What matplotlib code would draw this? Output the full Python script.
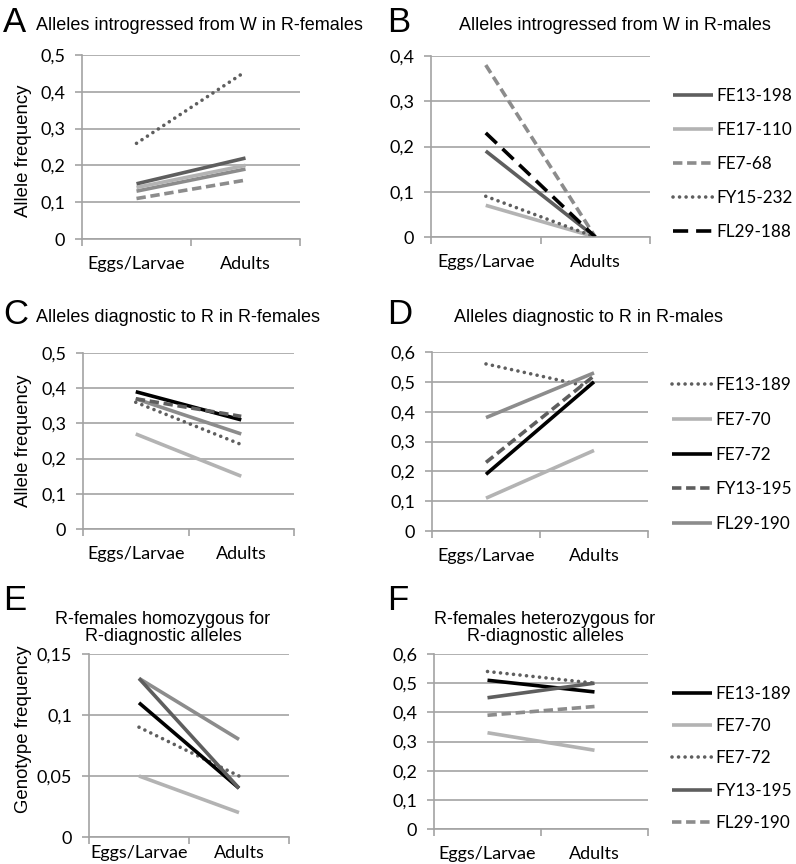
import matplotlib
matplotlib.use("Agg")
import matplotlib.pyplot as plt

W, H = 796, 864

stages = ["Eggs/Larvae", "Adults"]

# panel A / B : alleles introgressed from W
names_w = ["FE13-198", "FE17-110", "FE7-68", "FY15-232", "FL29-188"]
a_fe13_198 = [0.15, 0.22]
a_fe17_110 = [0.14, 0.20]
a_fe7_68 = [0.11, 0.16]
a_fy15_232 = [0.26, 0.455]
a_fl29_188 = [0.13, 0.19]
b_fe13_198 = [0.19, 0.0]
b_fe17_110 = [0.07, 0.0]
b_fe7_68 = [0.38, 0.0]
b_fy15_232 = [0.09, 0.0]
b_fl29_188 = [0.23, 0.0]

# panel C / D : alleles diagnostic to R
names_r = ["FE13-189", "FE7-70", "FE7-72", "FY13-195", "FL29-190"]
c_fe13_189 = [0.36, 0.24]
c_fe7_70 = [0.27, 0.15]
c_fe7_72 = [0.39, 0.31]
c_fy13_195 = [0.37, 0.32]
c_fl29_190 = [0.37, 0.27]
d_fe13_189 = [0.56, 0.48]
d_fe7_70 = [0.11, 0.27]
d_fe7_72 = [0.19, 0.50]
d_fy13_195 = [0.23, 0.52]
d_fl29_190 = [0.38, 0.53]

# panel E / F : genotype frequencies
e_fe13_189 = [0.11, 0.04]
e_fe7_70 = [0.05, 0.02]
e_fe7_72 = [0.09, 0.05]
e_fy13_195 = [0.13, 0.04]
e_fl29_190 = [0.13, 0.08]
f_fe13_189 = [0.51, 0.47]
f_fe7_70 = [0.33, 0.27]
f_fe7_72 = [0.54, 0.50]
f_fy13_195 = [0.45, 0.50]
f_fl29_190 = [0.39, 0.42]

yticks_a = [0, 0.1, 0.2, 0.3, 0.4, 0.5]
yticks_b = [0, 0.1, 0.2, 0.3, 0.4]
yticks_d = [0, 0.1, 0.2, 0.3, 0.4, 0.5, 0.6]
yticks_e = [0, 0.05, 0.1, 0.15]
ylabels_a = ["0", "0,1", "0,2", "0,3", "0,4", "0,5"]
ylabels_b = ["0", "0,1", "0,2", "0,3", "0,4"]
ylabels_d = ["0", "0,1", "0,2", "0,3", "0,4", "0,5", "0,6"]
ylabels_e = ["0", "0,05", "0,1", "0,15"]

DARK = "#5e5e5e"
LIGHT = "#b3b3b3"
MID = "#8c8c8c"
GRID = "#a3a3a3"
DOT = (0, (0.01, 1.8))
DASH = (0, (2.6, 1.3))
LDASH = (0, (4.2, 2.2))

s_dark = dict(color=DARK, ls="-", lw=2.6)
s_light = dict(color=LIGHT, ls="-", lw=2.6)
s_mid = dict(color=MID, ls="-", lw=2.6)
s_black = dict(color="black", ls="-", lw=2.6)
s_gdash = dict(color=MID, ls=DASH, lw=2.6)
s_ddash = dict(color=DARK, ls=DASH, lw=2.6)
s_kdash = dict(color="black", ls=LDASH, lw=2.6)
s_dot = dict(color=DARK, ls=DOT, lw=2.6, dash_capstyle="round")

TICK_FONT = "Lato"
TEXT_FONT = "Liberation Sans"


def px(x, y):
    return x / W, 1 - y / H


def rect(l, t, r, b):
    return [l / W, 1 - b / H, (r - l) / W, (b - t) / H]


def setup_axes(ax, yticks, ylabels, xpad=12):
    ax.set_xlim(0, 2)
    ax.set_ylim(yticks[0], yticks[-1])
    ax.set_xticks([0, 1, 2])
    ax.set_xticklabels([])
    ax.set_xticks([0.5, 1.5], minor=True)
    ax.set_xticklabels(stages, minor=True, fontsize=13, family=TICK_FONT)
    ax.tick_params(axis="x", which="minor", length=0, pad=xpad)
    ax.tick_params(axis="x", which="major", length=5, color=GRID, width=1.2)
    ax.set_yticks(yticks)
    ax.set_yticklabels(ylabels, fontsize=13, family=TICK_FONT)
    ax.tick_params(axis="y", length=5, color=GRID, width=1.2, pad=7)
    ax.grid(axis="y", color=GRID, lw=1.2)
    ax.set_axisbelow(True)
    for side in ("top", "right"):
        ax.spines[side].set_visible(False)
    for side in ("left", "bottom"):
        ax.spines[side].set_color(GRID)
        ax.spines[side].set_linewidth(1.2)


def draw(ax, series):
    handles = []
    for name, vals, st in series:
        h, = ax.plot([0.5, 1.5], vals, label=name, solid_capstyle="butt", **st)
        handles.append(h)
    return handles


def add_legend(fig, handles, x, y, spacing):
    fig.legend(handles=handles, loc="upper left", bbox_to_anchor=px(x, y),
               frameon=False, borderpad=0, borderaxespad=0,
               handlelength=2.35, handletextpad=0.18, labelspacing=spacing,
               prop=dict(family=TICK_FONT, size=12.3))


fig = plt.figure(figsize=(W / 100, H / 100), dpi=100)

# A
ax = fig.add_axes(rect(82, 55, 300, 239))
setup_axes(ax, yticks_a, ylabels_a)
draw(ax, [
    ("FE7-68", a_fe7_68, s_gdash),
    ("FL29-188", a_fl29_188, s_mid),
    ("FE17-110", a_fe17_110, s_light),
    ("FE13-198", a_fe13_198, s_dark),
    ("FY15-232", a_fy15_232, s_dot),
])

# B
ax = fig.add_axes(rect(431, 56, 650, 237))
setup_axes(ax, yticks_b, ylabels_b)
hb = draw(ax, [
    ("FE13-198", b_fe13_198, s_dark),
    ("FE17-110", b_fe17_110, s_light),
    ("FE7-68", b_fe7_68, s_gdash),
    ("FY15-232", b_fy15_232, s_dot),
    ("FL29-188", b_fl29_188, s_kdash),
])
add_legend(fig, hb, 673, 88, 1.05)

# C
ax = fig.add_axes(rect(83, 353, 294, 529))
setup_axes(ax, yticks_a, ylabels_a)
draw(ax, [
    ("FE7-70", c_fe7_70, s_light),
    ("FE13-189", c_fe13_189, s_dot),
    ("FL29-190", c_fl29_190, s_mid),
    ("FE7-72", c_fe7_72, s_black),
    ("FY13-195", c_fy13_195, s_ddash),
])

# D
ax = fig.add_axes(rect(432, 352, 648, 531))
setup_axes(ax, yticks_d, ylabels_d)
hd = draw(ax, [
    ("FE13-189", d_fe13_189, s_dot),
    ("FE7-70", d_fe7_70, s_light),
    ("FE7-72", d_fe7_72, s_black),
    ("FY13-195", d_fy13_195, s_ddash),
    ("FL29-190", d_fl29_190, s_mid),
])
add_legend(fig, hd, 672, 377, 1.1)

# E
ax = fig.add_axes(rect(89, 654, 289, 837))
setup_axes(ax, yticks_e, ylabels_e, xpad=6)
draw(ax, [
    ("FE7-70", e_fe7_70, s_light),
    ("FL29-190", e_fl29_190, s_mid),
    ("FE7-72", e_fe7_72, s_dot),
    ("FE13-189", e_fe13_189, s_black),
    ("FY13-195", e_fy13_195, s_dark),
])

# F
ax = fig.add_axes(rect(434, 654, 648, 829))
setup_axes(ax, yticks_d, ylabels_d)
hf = draw(ax, [
    ("FE13-189", f_fe13_189, s_black),
    ("FE7-70", f_fe7_70, s_light),
    ("FE7-72", f_fe7_72, s_dot),
    ("FY13-195", f_fy13_195, s_dark),
    ("FL29-190", f_fl29_190, s_gdash),
])
add_legend(fig, hf, 672, 686, 0.95)

# panel letters
for letter, x, y in [("A", 3, 22), ("B", 387, 22), ("C", 3, 315),
                     ("D", 387, 315), ("E", 3, 600), ("F", 387, 600)]:
    fig.text(*px(x, y), letter, fontsize=25, family=TEXT_FONT,
             ha="left", va="center")

# titles
for title, x, y in [("Alleles introgressed from W in R-females", 199, 26),
                    ("Alleles introgressed from W in R-males", 615, 26),
                    ("Alleles diagnostic to R in R-females", 178, 317),
                    ("Alleles diagnostic to R in R-males", 588, 317),
                    ("R-females homozygous for\nR-diagnostic alleles", 163, 628),
                    ("R-females heterozygous for\nR-diagnostic alleles", 545, 628)]:
    fig.text(*px(x, y), title, fontsize=13, family=TEXT_FONT,
             ha="center", va="center", linespacing=0.93)

# y labels
for label, y in [("Allele frequency", 151), ("Allele frequency", 441),
                 ("Genotype frequency", 729)]:
    fig.text(*px(24, y), label, fontsize=13.4, family=TEXT_FONT,
             rotation=90, ha="center", va="center")

fig.savefig("out.png", dpi=100)
